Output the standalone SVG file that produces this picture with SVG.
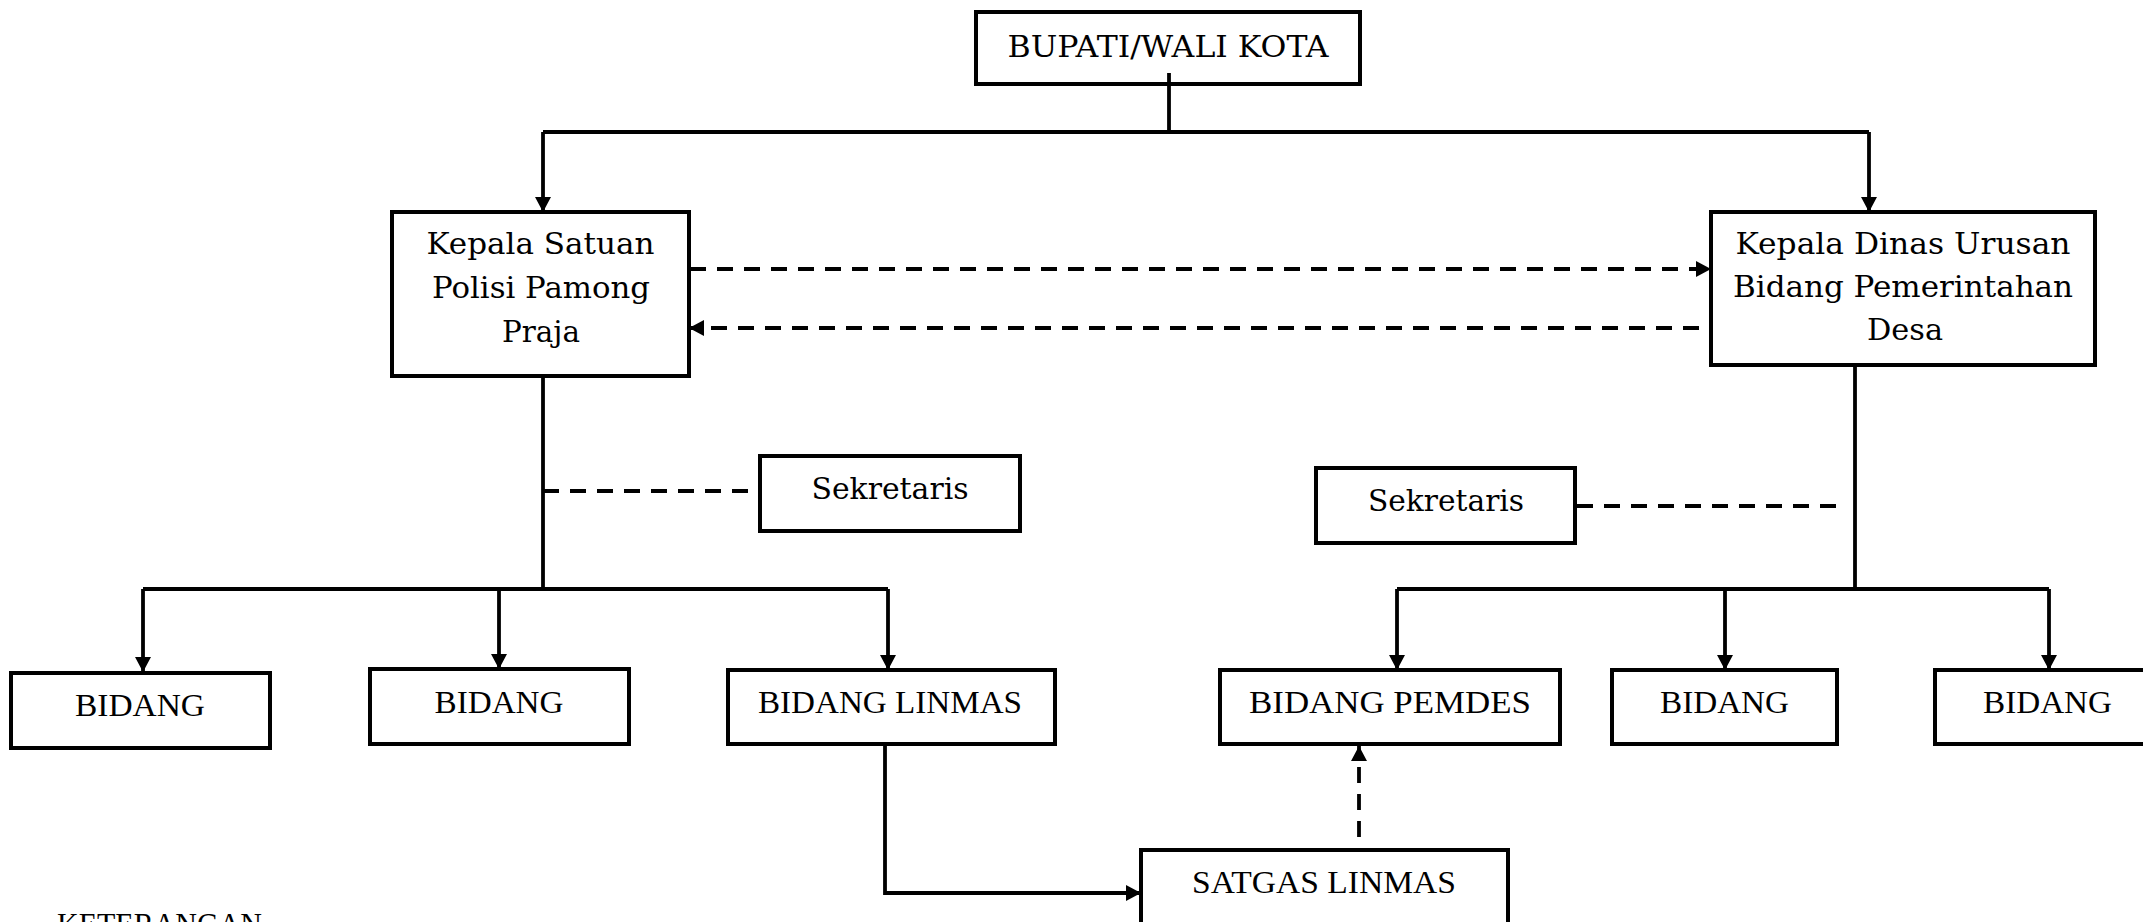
<svg xmlns="http://www.w3.org/2000/svg" width="2143" height="922" viewBox="0 0 2143 922">
<style>
  .box { fill: #ffffff; stroke: #000000; stroke-width: 4; }
  .ln { fill: none; stroke: #000000; stroke-width: 3.8; }
  .dash { fill: none; stroke: #000000; stroke-width: 3.8; stroke-dasharray: 16 11; }
  .bk { font-family: "DejaVu Serif", "Liberation Serif", serif; font-size: 29px; fill: #000; text-anchor: middle; }
  .tm { font-family: "Liberation Serif", "DejaVu Serif", serif; font-size: 32px; fill: #000; text-anchor: middle; }
</style>
<defs>
  <marker id="arr" markerUnits="userSpaceOnUse" markerWidth="16" markerHeight="16" refX="15" refY="8" orient="auto">
    <path d="M0,0 L15,8 L0,16 Z" fill="#000" stroke="none"/>
  </marker>
</defs>
<rect width="2143" height="922" fill="#ffffff"/>

<g id="connectors">
  <path class="ln" d="M1169,73 V132"/>
  <path class="ln" d="M543,132 H1869"/>
  <path class="ln" d="M543,132 V212" marker-end="url(#arr)"/>
  <path class="ln" d="M1869,132 V212" marker-end="url(#arr)"/>
  <path class="dash" d="M690,269 H1711" marker-end="url(#arr)"/>
  <path class="dash" d="M1699,328 H689" marker-end="url(#arr)"/>
  <path class="ln" d="M543,376 V589"/>
  <path class="dash" d="M543,491 H758"/>
  <path class="ln" d="M143,589 H888"/>
  <path class="ln" d="M143,589 V672" marker-end="url(#arr)"/>
  <path class="ln" d="M499,589 V669" marker-end="url(#arr)"/>
  <path class="ln" d="M888,589 V670" marker-end="url(#arr)"/>
  <path class="ln" d="M1855,365 V589"/>
  <path class="dash" d="M1577,506 H1844"/>
  <path class="ln" d="M1397,589 H2049"/>
  <path class="ln" d="M1397,589 V670" marker-end="url(#arr)"/>
  <path class="ln" d="M1725,589 V670" marker-end="url(#arr)"/>
  <path class="ln" d="M2049,589 V670" marker-end="url(#arr)"/>
  <path class="ln" d="M885,744 V893 H1141" marker-end="url(#arr)"/>
  <path class="dash" d="M1359,837 V746" marker-end="url(#arr)"/>
</g>

<g id="bupati">
  <rect class="box" x="976" y="12" width="384" height="72"/>
  <text class="bk" x="1168" y="57" font-size="31" textLength="321" lengthAdjust="spacingAndGlyphs">BUPATI/WALI KOTA</text>
  <path class="ln" d="M1169,73 V84"/>
</g>

<g id="kasatpol">
  <rect class="box" x="392" y="212" width="297" height="164"/>
  <text class="bk" x="540.5" y="254" textLength="228" lengthAdjust="spacingAndGlyphs">Kepala Satuan</text>
  <text class="bk" x="541" y="298" textLength="218" lengthAdjust="spacingAndGlyphs">Polisi Pamong</text>
  <text class="bk" x="541" y="342" textLength="78" lengthAdjust="spacingAndGlyphs">Praja</text>
</g>

<g id="kadis">
  <rect class="box" x="1711" y="212" width="384" height="153"/>
  <text class="bk" x="1903" y="254" textLength="335" lengthAdjust="spacingAndGlyphs">Kepala Dinas Urusan</text>
  <text class="bk" x="1903" y="297" textLength="340" lengthAdjust="spacingAndGlyphs">Bidang Pemerintahan</text>
  <text class="bk" x="1905" y="340" textLength="76" lengthAdjust="spacingAndGlyphs">Desa</text>
</g>

<g id="sekretaris-left">
  <rect class="box" x="760" y="456" width="260" height="75"/>
  <text class="bk" x="890" y="499" textLength="157" lengthAdjust="spacingAndGlyphs">Sekretaris</text>
</g>

<g id="sekretaris-right">
  <rect class="box" x="1316" y="468" width="259" height="75"/>
  <text class="bk" x="1446" y="511" textLength="156" lengthAdjust="spacingAndGlyphs">Sekretaris</text>
</g>

<g id="bidang-1">
  <rect class="box" x="11" y="673" width="259" height="75"/>
  <text class="tm" x="140" y="716" textLength="130" lengthAdjust="spacingAndGlyphs">BIDANG</text>
</g>

<g id="bidang-2">
  <rect class="box" x="370" y="669" width="259" height="75"/>
  <text class="tm" x="499" y="713" textLength="129" lengthAdjust="spacingAndGlyphs">BIDANG</text>
</g>

<g id="bidang-linmas">
  <rect class="box" x="728" y="670" width="327" height="74"/>
  <text class="tm" x="890" y="713" textLength="264" lengthAdjust="spacingAndGlyphs">BIDANG LINMAS</text>
</g>

<g id="bidang-pemdes">
  <rect class="box" x="1220" y="670" width="340" height="74"/>
  <text class="tm" x="1390" y="713" textLength="282" lengthAdjust="spacingAndGlyphs">BIDANG PEMDES</text>
</g>

<g id="bidang-r1">
  <rect class="box" x="1612" y="670" width="225" height="74"/>
  <text class="tm" x="1724.5" y="713" textLength="129" lengthAdjust="spacingAndGlyphs">BIDANG</text>
</g>

<g id="bidang-r2">
  <rect class="box" x="1935" y="670" width="230" height="74"/>
  <text class="tm" x="2047.5" y="713" textLength="129" lengthAdjust="spacingAndGlyphs">BIDANG</text>
</g>

<g id="satgas-linmas">
  <rect class="box" x="1141" y="850" width="367" height="100"/>
  <text class="tm" x="1324" y="893" textLength="264" lengthAdjust="spacingAndGlyphs">SATGAS LINMAS</text>
</g>

<g id="keterangan">
  <text class="tm" x="57" y="935" style="text-anchor:start" textLength="205" lengthAdjust="spacingAndGlyphs">KETERANGAN</text>
</g>
</svg>
